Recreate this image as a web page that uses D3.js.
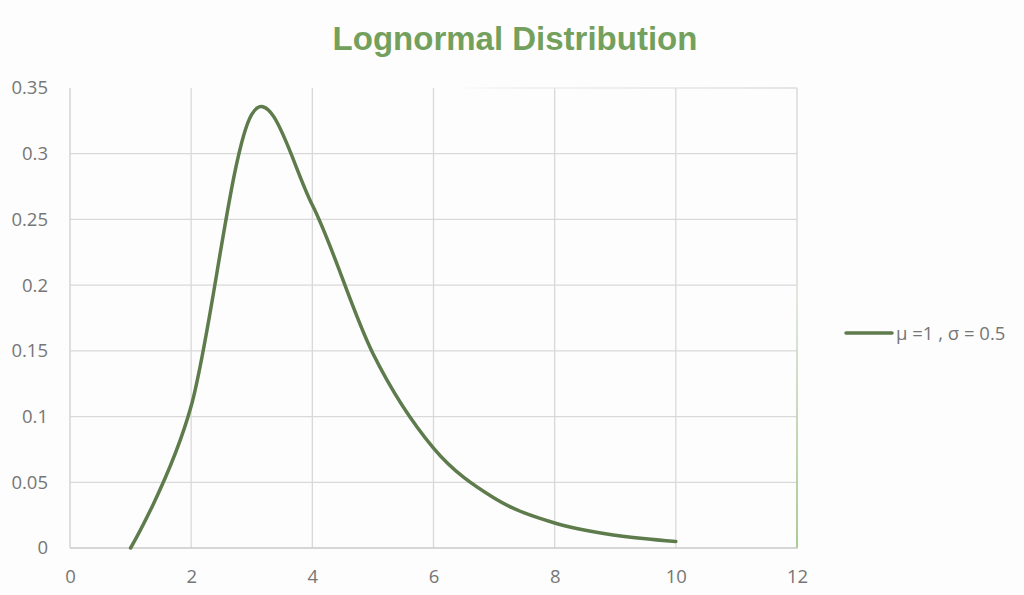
<!DOCTYPE html>
<html><head><meta charset="utf-8">
<script src="https://cdn.jsdelivr.net/npm/d3@7"></script>
<style>body{margin:0;background:#fdfdfd;} svg{display:block;}</style>
</head><body>
<svg id="c" width="1024" height="595"></svg>
<script>
const xValues = [1, 2, 3, 4, 5, 6, 7, 8, 9, 10];
const yValues = [0, 0.108, 0.330, 0.261, 0.148, 0.076, 0.038, 0.019, 0.0097, 0.005];
const xTicks = [0, 2, 4, 6, 8, 10, 12];
const yTicks = [0, 0.05, 0.1, 0.15, 0.2, 0.25, 0.3, 0.35];
const yTickLabels = ["0", "0.05", "0.1", "0.15", "0.2", "0.25", "0.3", "0.35"];
const seriesName = "μ =1 , σ = 0.5";
const titleText = "Lognormal Distribution";

const svg = d3.select("#c");
const L = 70, R = 797, T = 88, B = 548;
const x = d3.scaleLinear().domain([0, 12]).range([L, R]);
const y = d3.scaleLinear().domain([0, 0.35]).range([B, T]);
const font = "'Open Sans', 'Noto Sans', sans-serif";
const grey = "#d9d9d9";
const fs = "18.5px";

svg.append("rect").attr("width", 1024).attr("height", 595).attr("fill", "#fdfdfd");

const defs = svg.append("defs");
const gTop = defs.append("linearGradient").attr("id", "gTop").attr("x1", "0").attr("x2", "1").attr("y1", "0").attr("y2", "0");
gTop.append("stop").attr("offset", "0").attr("stop-color", "#dfe3dc").attr("stop-opacity", 0);
gTop.append("stop").attr("offset", "0.2").attr("stop-color", "#e3e7df").attr("stop-opacity", 0.6);
gTop.append("stop").attr("offset", "1").attr("stop-color", "#d8dcd5").attr("stop-opacity", 1);
const gRight = defs.append("linearGradient").attr("id", "gRight").attr("x1", "0").attr("x2", "0").attr("y1", "0").attr("y2", "1");
gRight.append("stop").attr("offset", "0").attr("stop-color", "#d8d8d8");
gRight.append("stop").attr("offset", "0.45").attr("stop-color", "#d6dcd2");
gRight.append("stop").attr("offset", "1").attr("stop-color", "#86b867");

svg.append("g").selectAll("line").data(yTicks.filter(v => v > 0 && v < 0.35)).join("line")
  .attr("x1", L).attr("x2", R).attr("y1", d => y(d)).attr("y2", d => y(d))
  .attr("stroke", grey).attr("stroke-width", 1.3);
svg.append("g").selectAll("line").data(xTicks.filter(v => v < 12)).join("line")
  .attr("x1", d => x(d)).attr("x2", d => x(d)).attr("y1", T).attr("y2", B)
  .attr("stroke", d => d === 0 ? "#cfcfcf" : grey).attr("stroke-width", 1.3);
const xTopStart = x(6.3);
svg.append("rect").attr("x", xTopStart).attr("y", T - 0.7).attr("width", R - xTopStart).attr("height", 1.4).attr("fill", "url(#gTop)");
svg.append("rect").attr("x", R - 0.7).attr("y", T).attr("width", 1.4).attr("height", B - T).attr("fill", "url(#gRight)");
svg.append("line").attr("x1", L).attr("x2", R + 0.7).attr("y1", B).attr("y2", B)
  .attr("stroke", "#c8c8c8").attr("stroke-width", 1.5);

const xAxis = d3.axisBottom(x).tickValues(xTicks).tickSize(0).tickPadding(22).tickFormat(d3.format("d"));
const gx = svg.append("g").attr("transform", `translate(0,${B})`).call(xAxis);
gx.select(".domain").remove();
gx.selectAll("text").attr("fill", "#767676").style("font-family", font).style("font-size", fs);

const yAxis = d3.axisLeft(y).tickValues(yTicks).tickSize(0).tickPadding(22).tickFormat((d, i) => yTickLabels[i]);
const gy = svg.append("g").attr("transform", `translate(${L},0)`).call(yAxis);
gy.select(".domain").remove();
gy.selectAll("text").attr("fill", "#767676").style("font-family", font).style("font-size", fs);

const data = xValues.map((v, i) => [v, yValues[i]]);
const line = d3.line().x(d => x(d[0])).y(d => y(d[1])).curve(d3.curveCardinal.tension(0));
svg.append("path").datum(data).attr("d", line).attr("fill", "none")
  .attr("stroke", "#5e7b4c").attr("stroke-width", 3.5).attr("stroke-linecap", "round").attr("stroke-linejoin", "round");

svg.append("text").attr("x", 515).attr("y", 50).attr("text-anchor", "middle")
  .attr("fill", "#74a05e").style("font-family", "'Liberation Sans', Arial, sans-serif")
  .style("font-weight", "bold").style("font-size", "33px").text(titleText);

svg.append("line").attr("x1", 846).attr("x2", 892).attr("y1", 333).attr("y2", 333)
  .attr("stroke", "#5e7b4c").attr("stroke-width", 3.5).attr("stroke-linecap", "round");
svg.append("text").attr("x", 896).attr("y", 340).attr("fill", "#767676")
  .style("font-family", font).style("font-size", fs).text(seriesName);
</script>
</body></html>
